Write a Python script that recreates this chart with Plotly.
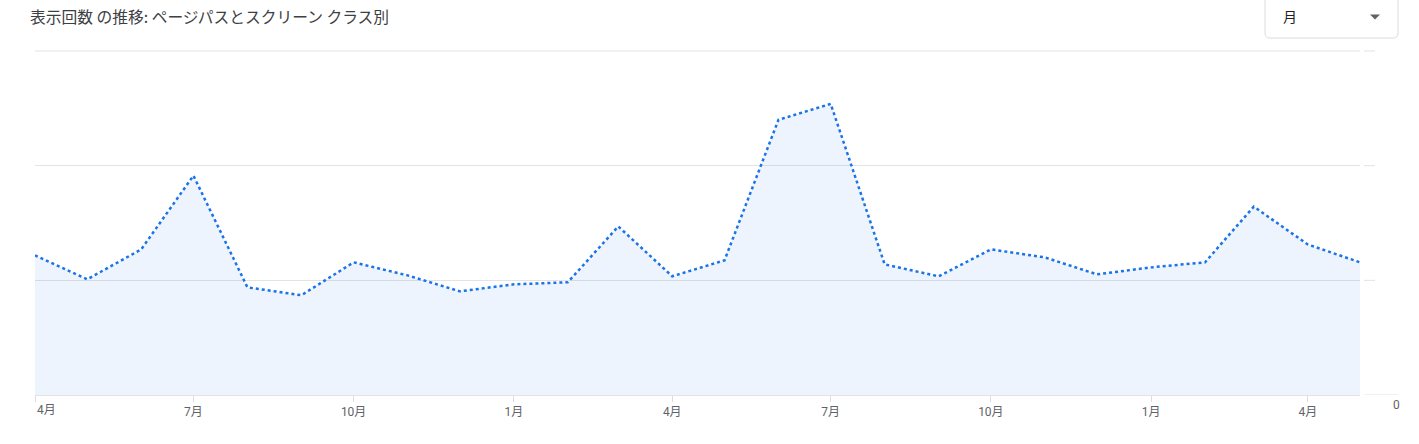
import plotly.graph_objects as go

# ---- data ----
months = [
    "2023-04-01", "2023-05-01", "2023-06-01", "2023-07-01", "2023-08-01", "2023-09-01",
    "2023-10-01", "2023-11-01", "2023-12-01", "2024-01-01", "2024-02-01", "2024-03-01",
    "2024-04-01", "2024-05-01", "2024-06-01", "2024-07-01", "2024-08-01", "2024-09-01",
    "2024-10-01", "2024-11-01", "2024-12-01", "2025-01-01", "2025-02-01", "2025-03-01",
    "2025-04-01", "2025-05-01",
]
views = [
    121.7, 100.9, 127.0, 191.3, 93.9, 87.0,
    115.7, 104.3, 90.4, 96.5, 98.3, 147.0,
    103.5, 117.4, 240.0, 253.9, 113.9, 103.5,
    127.0, 120.0, 105.2, 111.3, 115.7, 164.3,
    131.3, 115.7,
]
tick_dates = ["2023-04-01", "2023-07-01", "2023-10-01", "2024-01-01", "2024-04-01",
              "2024-07-01", "2024-10-01", "2025-01-01", "2025-04-01"]
tick_text = ["4月", "7月", "10月", "1月", "4月", "7月", "10月", "1月", "4月"]
y_ticks = [0, 100, 200, 300]
title_text = "表示回数 の推移: ページパスとスクリーン クラス別"
dropdown_text = "月"

# ---- layout geometry (page pixels) ----
W, H = 1419, 444
L, R, T, B = 35, 1360, 50, 395          # plot area
pw, ph = R - L, B - T
Y_TOP = 300 * ph / (ph - 1)             # top gridline sits 1px inside the plot


def px(x):
    return (x - L) / pw


def py(y):
    return (B - y) / ph


FONT = "Roboto, 'Noto Sans CJK JP', sans-serif"
GRID = "#e3e3e3"
LABEL = "#5f6368"

fig = go.Figure()
fig.add_trace(go.Scatter(
    x=months, y=views, mode="lines",
    line=dict(color="#1a73e8", width=2.5, dash="3px,3px"),
    fill="tozeroy", fillcolor="rgba(26,115,232,0.08)",
    hoverinfo="skip", showlegend=False,
))

shapes = []
# top gridline (drawn explicitly so it is never dropped at the plot edge)
shapes.append(dict(type="line", xref="paper", yref="y", layer="below",
                   x0=0, x1=1, y0=y_ticks[-1], y1=y_ticks[-1],
                   line=dict(color=GRID, width=1)))
# right-side tick marks of the value axis
for v in y_ticks:
    shapes.append(dict(type="line", xref="paper", yref="y",
                       x0=px(1364), x1=px(1398 if v == 0 else 1375), y0=v, y1=v,
                       line=dict(color=GRID, width=1)))

# dropdown box with rounded corners (its top runs off the page)
bx0, bx1, by0, by1, r = 1265, 1398, 38, -4, 5
path = (f"M {px(bx0)},{py(by1)} L {px(bx0)},{py(by0 - r)} "
        f"Q {px(bx0)},{py(by0)} {px(bx0 + r)},{py(by0)} "
        f"L {px(bx1 - r)},{py(by0)} Q {px(bx1)},{py(by0)} {px(bx1)},{py(by0 - r)} "
        f"L {px(bx1)},{py(by1)}")
shapes.append(dict(type="path", xref="paper", yref="paper", path=path,
                   line=dict(color="#dadce0", width=1), fillcolor="rgba(0,0,0,0)"))
# dropdown triangle
tri = f"M {px(1370)},{py(14.5)} L {px(1380)},{py(14.5)} L {px(1375)},{py(19.5)} Z"
shapes.append(dict(type="path", xref="paper", yref="paper", path=tri,
                   line=dict(color=LABEL, width=0), fillcolor=LABEL))

annotations = [
    dict(text=title_text, xref="paper", yref="paper", x=px(28), y=py(16),
         xanchor="left", yanchor="middle", showarrow=False,
         font=dict(family="'Noto Sans CJK JP', Roboto, sans-serif", size=15.75, color="#3c4043")),
    dict(text=dropdown_text, xref="paper", yref="paper", x=px(1281), y=py(17),
         xanchor="left", yanchor="middle", showarrow=False,
         font=dict(family=FONT, size=14, color="#202124")),
    dict(text=str(y_ticks[0]), xref="paper", yref="y", x=px(1402), y=y_ticks[0],
         xanchor="right", yanchor="top", yshift=-1, showarrow=False,
         font=dict(family=FONT, size=12, color=LABEL)),
    # first month label is kept inside the plot (left aligned at its tick)
    dict(text=tick_text[0], xref="x", yref="paper", x=tick_dates[0], y=0,
         xanchor="left", yanchor="top", yshift=-6, showarrow=False,
         font=dict(family=FONT, size=12, color=LABEL)),
]

fig.update_layout(
    width=W, height=H,
    margin=dict(l=L, r=W - R, t=T, b=H - B, pad=0),
    paper_bgcolor="white", plot_bgcolor="white",
    shapes=shapes, annotations=annotations,
    font=dict(family=FONT, size=12, color=LABEL),
    xaxis=dict(
        type="date", range=[months[0], months[-1]],
        tickvals=tick_dates, ticktext=[""] + tick_text[1:],
        ticks="outside", ticklen=6, tickcolor="#dadce0", tickwidth=1,
        showgrid=False, zeroline=False, showline=False,
        tickfont=dict(family=FONT, size=12, color=LABEL),
    ),
    yaxis=dict(
        range=[0, Y_TOP], tickvals=y_ticks, showticklabels=False,
        showgrid=True, gridcolor=GRID, gridwidth=1,
        zeroline=True, zerolinecolor=GRID, zerolinewidth=1,
        showline=False, ticks="",
    ),
)

fig.write_html(
    "out.html",
    config={"displayModeBar": False},
    post_script="document.body.style.margin='0';document.body.style.overflow='hidden';",
)
